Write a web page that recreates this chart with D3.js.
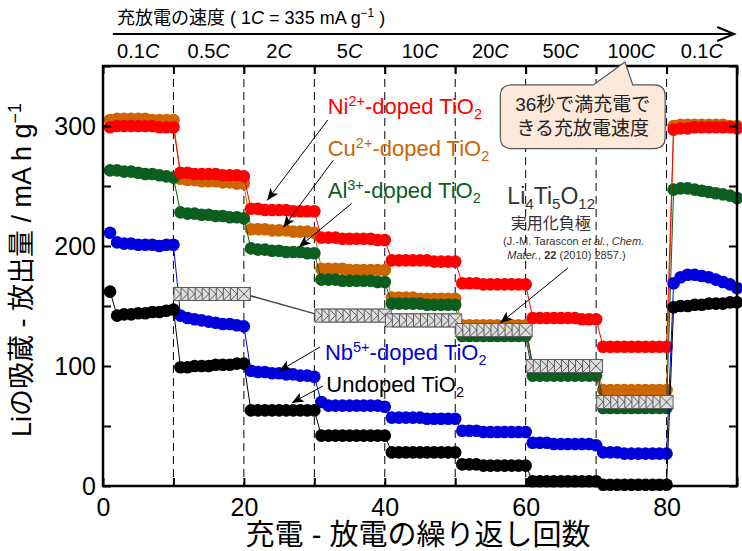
<!DOCTYPE html>
<html>
<head>
<meta charset="utf-8">
<script src="https://cdn.jsdelivr.net/npm/d3@7"></script>
<style>
  body { margin: 0; background: #fff; }
  svg { display: block; font-family: "Liberation Sans", "Noto Sans CJK JP", sans-serif; }
</style>
</head>
<body>
<svg id="chart" width="742" height="551"></svg>
<script>
const width = 742;
const height = 551;
const margin = {top: 66, right: 5, bottom: 65, left: 103};

// cycle number of every measurement
const cycles = d3.range(1, 91);

// discharge capacity (mA h g-1), one value per cycle
const cuDoped = [
  305,306,306,306,306,306,305,305,305,305,
  256,255,255,254,254,254,253,253,252,252,
  214,214,214,213,213,213,212,212,212,211,
  181,181,181,181,180,180,180,180,180,180,
  157,157,157,157,156,156,156,156,156,156,
  134,134,134,134,134,134,134,134,134,134,
  100,100,100,100,100,100,100,100,100,100,
  80,80,80,80,80,80,80,80,80,80,
  300,301,301,301,301,301,301,301,300,300];
const alDoped = [
  263,263,262,262,261,260,260,259,258,257,
  228,227,227,226,226,225,225,224,224,223,
  198,197,197,196,196,195,195,195,194,194,
  172,172,172,171,171,171,171,171,170,170,
  152,152,152,152,152,151,151,151,151,151,
  125,125,125,125,125,125,125,125,125,125,
  92,92,92,92,92,92,92,92,92,92,
  65,65,65,65,65,65,65,65,65,65,
  247,248,248,247,246,245,244,243,242,240];
const niDoped = [
  299,300,300,300,300,300,300,299,299,299,
  261,261,260,260,260,260,259,259,259,258,
  231,231,230,230,230,230,229,229,229,229,
  207,207,207,206,206,206,206,206,205,205,
  188,188,188,188,188,188,187,187,187,187,
  169,169,169,168,168,168,168,168,168,168,
  140,140,140,140,140,140,140,139,139,139,
  116,116,116,116,116,116,116,116,116,116,
  297,298,298,299,299,299,299,299,299,298];
const nbDoped = [
  211,203,202,202,201,201,201,200,201,201,
  142,140,139,138,137,136,135,135,134,133,
  96,95,95,94,94,93,93,92,92,91,
  70,67,67,67,67,67,67,67,67,66,
  57,57,57,57,57,56,56,56,56,56,
  46,46,46,45,45,45,45,45,45,45,
  36,36,36,35,35,35,35,35,35,34,
  28,28,28,27,27,27,27,27,27,27,
  169,174,176,176,175,174,172,170,168,165];
const undoped = [
  162,142,143,143,144,144,145,145,146,147,
  99,99,100,100,100,101,101,101,102,102,
  63,63,63,63,63,63,63,63,63,63,
  42,42,42,42,42,42,42,42,42,42,
  28,28,28,28,28,28,28,28,28,28,
  18,18,18,17,17,17,17,17,17,17,
  4,4,4,4,4,4,4,4,4,4,
  1,1,1,1,1,1,1,1,1,1,
  149,150,150,151,151,152,152,152,153,153];

// Li4Ti5O12 reference (Tarascon et al.)
const li4Cycles = [
  11,12,13,14,15,16,17,18,19,20,
  31,32,33,34,35,36,37,38,39,40,
  41,42,43,44,45,46,47,48,49,50,
  51,52,53,54,55,56,57,58,59,60,
  61,62,63,64,65,66,67,68,69,70,
  71,72,73,74,75,76,77,78,79,80];
const li4Capacity = [
  160,160,160,160,160,160,160,160,160,160,
  142,142,142,142,142,142,142,142,142,142,
  138,138,138,138,138,138,138,138,138,138,
  130,130,130,130,130,130,130,130,130,130,
  100,100,100,100,100,100,100,100,100,100,
  70,70,70,70,70,70,70,70,70,70];

// rate of each block of 10 cycles
const rateLabels = ["0.1", "0.5", "2", "5", "10", "20", "50", "100", "0.1"];
const blockEdges = [10, 20, 30, 40, 50, 60, 70, 80];

const series = [
  {name: "Cu", values: cuDoped, color: "#cc6600"},
  {name: "Al", values: alDoped, color: "#0b5e1e"},
  {name: "Ni", values: niDoped, color: "#ff0000"},
  {name: "Nb", values: nbDoped, color: "#0000dd"},
  {name: "Undoped", values: undoped, color: "#000000"}
];

const x = d3.scaleLinear().domain([0, 90]).range([margin.left, width - margin.right]);
const y = d3.scaleLinear().domain([0, 350]).range([height - margin.bottom, margin.top]);

const svg = d3.select("#chart");
svg.append("rect").attr("width", width).attr("height", height).attr("fill", "#fff");

// text with ^{sup}, _{sub}, *italic* and **bold** pieces
function rich(sel, str, size) {
  const parts = str.split(/(\^\{[^}]*\}|_\{[^}]*\}|\*\*[^*]+\*\*|\*[^*]+\*)/).filter(s => s);
  let shift = 0;
  parts.forEach(p => {
    let txt = p, s = 0, fs = size, it = null, b = null;
    if (p.startsWith("^{")) { txt = p.slice(2, -1); s = -0.38 * size; fs = size * 0.66; }
    else if (p.startsWith("_{")) { txt = p.slice(2, -1); s = 0.22 * size; fs = size * 0.66; }
    else if (p.startsWith("**")) { txt = p.slice(2, -2); b = "bold"; }
    else if (p.startsWith("*")) { txt = p.slice(1, -1); it = "italic"; }
    sel.append("tspan")
      .attr("dy", s - shift)
      .attr("font-size", fs)
      .attr("font-style", it)
      .attr("font-weight", b)
      .text(txt);
    shift = s;
  });
  return sel;
}

// dashed block separators
svg.append("g")
  .selectAll("line")
  .data(blockEdges)
  .join("line")
    .attr("x1", d => x(d)).attr("x2", d => x(d))
    .attr("y1", y(350)).attr("y2", y(0))
    .attr("stroke", "#000")
    .attr("stroke-width", 1)
    .attr("stroke-dasharray", "8,5");

// series: thin line + round markers
const line = d3.line().x((d, i) => x(cycles[i])).y(d => y(d));
series.forEach(s => {
  const g = svg.append("g");
  g.append("path")
    .attr("d", line(s.values))
    .attr("fill", "none")
    .attr("stroke", s.color)
    .attr("stroke-width", 1);
  g.selectAll("circle")
    .data(s.values)
    .join("circle")
      .attr("cx", (d, i) => x(cycles[i]))
      .attr("cy", d => y(d))
      .attr("r", 6.3)
      .attr("fill", s.color);
});

// Li4Ti5O12: boxed crosses
const li4 = svg.append("g");
li4.append("path")
  .attr("d", d3.line().x((d, i) => x(li4Cycles[i])).y(d => y(d))(li4Capacity))
  .attr("fill", "none")
  .attr("stroke", "#444")
  .attr("stroke-width", 1.5);
const box = 6.5;
const marks = li4.selectAll("g")
  .data(li4Capacity)
  .join("g")
    .attr("transform", (d, i) => `translate(${x(li4Cycles[i])},${y(d)})`);
marks.append("rect")
  .attr("x", -box).attr("y", -box).attr("width", box * 2).attr("height", box * 2)
  .attr("fill", "#dedede").attr("stroke", "#5a5a5a").attr("stroke-width", 1);
marks.append("path")
  .attr("d", `M${-box},${-box}L${box},${box}M${-box},${box}L${box},${-box}`)
  .attr("stroke", "#5a5a5a").attr("stroke-width", 1);

// axes with inward ticks
const xTicks = d3.range(0, 91, 10);
const yTicks = d3.range(0, 351, 50);
svg.append("g")
  .attr("transform", `translate(0,${y(0)})`)
  .call(d3.axisBottom(x).tickValues(xTicks).tickSize(-8).tickPadding(12)
    .tickFormat(d => (d % 20 === 0 && d < 90) ? d : ""))
  .call(g => g.select(".domain").remove())
  .call(g => g.selectAll("text").attr("font-size", 25).attr("font-family", null).attr("fill", "#000"))
  .call(g => g.selectAll("line").attr("stroke-width", 2));
svg.append("g")
  .attr("transform", `translate(0,${y(350)})`)
  .call(d3.axisTop(x).tickValues(xTicks).tickSize(-8).tickFormat(""))
  .call(g => g.select(".domain").remove())
  .call(g => g.selectAll("line").attr("stroke-width", 2));
svg.append("g")
  .attr("transform", `translate(${x(0)},0)`)
  .call(d3.axisLeft(y).tickValues(yTicks).tickSize(-8).tickPadding(7)
    .tickFormat(d => d % 100 === 0 ? d : ""))
  .call(g => g.select(".domain").remove())
  .call(g => g.selectAll("text").attr("font-size", 25).attr("font-family", null).attr("fill", "#000"))
  .call(g => g.selectAll("line").attr("stroke-width", 2));
svg.append("g")
  .attr("transform", `translate(${x(90)},0)`)
  .call(d3.axisRight(y).tickValues(yTicks).tickSize(-8).tickFormat(""))
  .call(g => g.select(".domain").remove())
  .call(g => g.selectAll("line").attr("stroke-width", 2));

// frame
svg.append("rect")
  .attr("x", x(0)).attr("y", y(350))
  .attr("width", x(90) - x(0)).attr("height", y(0) - y(350))
  .attr("fill", "none").attr("stroke", "#000").attr("stroke-width", 2.5);

// axis titles
rich(svg.append("text")
  .attr("transform", `translate(31,${(y(0) + y(350)) / 2 - 6}) rotate(-90)`)
  .attr("text-anchor", "middle").attr("dy", "0.35em"),
  "Liの吸蔵 - 放出量 / mA h g^{−1}", 27);
svg.append("text")
  .attr("x", (x(0) + x(90)) / 2 - 2).attr("y", 545)
  .attr("text-anchor", "middle").attr("font-size", 29)
  .text("充電 - 放電の繰り返し回数");

// rate arrow along the top
svg.append("line")
  .attr("x1", x(1.4)).attr("x2", x(89.6)).attr("y1", 34).attr("y2", 34)
  .attr("stroke", "#000").attr("stroke-width", 2);
svg.append("path")
  .attr("d", `M${x(89.6) - 17},27L${x(89.6)},34L${x(89.6) - 17},41`)
  .attr("fill", "none").attr("stroke", "#000").attr("stroke-width", 2);
rich(svg.append("text").attr("x", x(2)).attr("y", 24), "充放電の速度 ( 1*C* = 335 mA g^{−1} )", 18);
svg.append("g")
  .selectAll("text")
  .data(rateLabels)
  .join("text")
    .attr("x", (d, i) => x(i * 10 + 5))
    .attr("y", 58)
    .attr("text-anchor", "middle")
    .attr("font-size", 20)
    .each(function(d) { rich(d3.select(this), d + "*C*", 20); });

// labels and arrows, positions in data units
svg.append("defs").append("marker")
  .attr("id", "head").attr("viewBox", "0 0 12 10")
  .attr("refX", 12).attr("refY", 5)
  .attr("markerWidth", 12).attr("markerHeight", 10)
  .attr("markerUnits", "userSpaceOnUse").attr("orient", "auto")
  .append("path").attr("d", "M0,0L12,5L0,10L3,5Z").attr("fill", "#000");

const labels = [
  {text: "Ni^{2+}-doped TiO_{2}", color: "#ff0000", at: [31.9, 310], from: [31.9, 305], to: [23.3, 238]},
  {text: "Cu^{2+}-doped TiO_{2}", color: "#cc6600", at: [31.9, 275], from: [32.7, 271.5], to: [25.6, 215.5]},
  {text: "Al^{3+}-doped TiO_{2}", color: "#0b5e1e", at: [31.9, 240], from: [35.3, 235.5], to: [27.8, 199]},
  {text: "Nb^{5+}-doped TiO_{2}", color: "#0000dd", at: [31.5, 105], from: [30.8, 115.8], to: [25, 95.8]},
  {text: "Undoped TiO_{2}", color: "#000000", at: [31.7, 78], from: [31.2, 83.3], to: [26.8, 69.2]}
];
labels.forEach(l => {
  svg.append("line")
    .attr("x1", x(l.from[0])).attr("y1", y(l.from[1]))
    .attr("x2", x(l.to[0])).attr("y2", y(l.to[1]))
    .attr("stroke", "#000").attr("stroke-width", 1)
    .attr("marker-end", "url(#head)");
  rich(svg.append("text").attr("x", x(l.at[0])).attr("y", y(l.at[1])).attr("fill", l.color), l.text, 22);
});

// Li4Ti5O12 note
const note = svg.append("g").attr("fill", "#333");
rich(note.append("text").attr("x", x(57.4)).attr("y", y(235)), "Li_{4}Ti_{5}O_{12}", 23);
note.append("text").attr("x", x(57.9)).attr("y", y(214)).attr("font-size", 16).text("実用化負極");
rich(note.append("text").attr("x", x(56.8)).attr("y", y(201)), "(J.-M. Tarascon *et al.*, *Chem.*", 11);
rich(note.append("text").attr("x", x(57.4)).attr("y", y(189)), "*Mater.*,  **22** (2010) 2857.)", 11);
svg.append("line")
  .attr("x1", x(66)).attr("y1", y(181.7))
  .attr("x2", x(56.4)).attr("y2", y(135.8))
  .attr("stroke", "#000").attr("stroke-width", 1)
  .attr("marker-end", "url(#head)");

// callout box pointing at 100C
const bx0 = x(56.4), bx1 = x(79.8), by0 = y(334.2), by1 = y(281.2), r = 11;
const tx0 = x(69.6), tx1 = x(75.2), tip = [x(74.1), y(353.3)];
svg.append("path")
  .attr("d", `M${bx0 + r},${by0}L${tx0},${by0}L${tip[0]},${tip[1]}L${tx1},${by0}L${bx1 - r},${by0}` +
    `Q${bx1},${by0} ${bx1},${by0 + r}L${bx1},${by1 - r}Q${bx1},${by1} ${bx1 - r},${by1}` +
    `L${bx0 + r},${by1}Q${bx0},${by1} ${bx0},${by1 - r}L${bx0},${by0 + r}Q${bx0},${by0} ${bx0 + r},${by0}Z`)
  .attr("fill", "#fce9da").attr("stroke", "#555").attr("stroke-width", 1.2);
svg.append("text")
  .attr("x", (bx0 + bx1) / 2).attr("y", by0 + 26)
  .attr("text-anchor", "middle").attr("font-size", 19).attr("fill", "#222")
  .text("36秒で満充電で");
svg.append("text")
  .attr("x", (bx0 + bx1) / 2).attr("y", by0 + 50)
  .attr("text-anchor", "middle").attr("font-size", 19).attr("fill", "#222")
  .text("きる充放電速度");
</script>
</body>
</html>
